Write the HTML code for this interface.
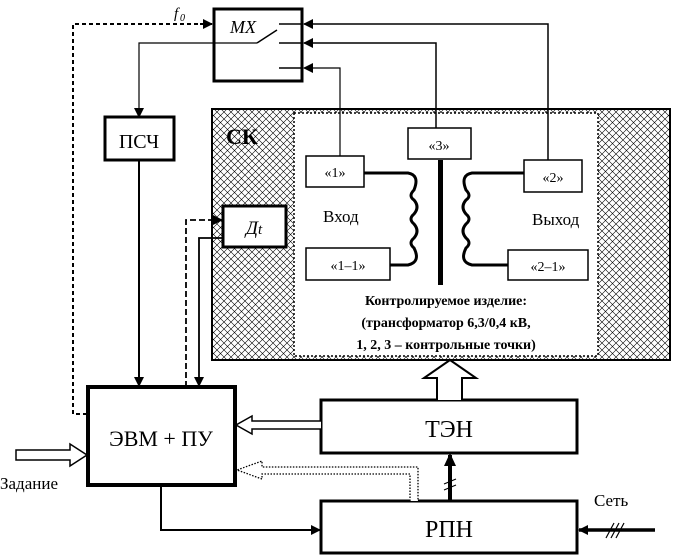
<!DOCTYPE html>
<html><head><meta charset="utf-8"><style>
html,body{margin:0;padding:0;background:#fff;}
svg{display:block;font-family:"Liberation Serif",serif;}
</style></head><body>
<svg width="673" height="556" viewBox="0 0 673 556" xmlns="http://www.w3.org/2000/svg" font-family="Liberation Serif, serif">
<defs>
<pattern id="h" width="7" height="7" patternUnits="userSpaceOnUse">
<path d="M0,0 L7,7 M7,0 L0,7" stroke="#000" stroke-width="0.6"/>
</pattern>
<marker id="a" markerWidth="10" markerHeight="10" refX="9" refY="5" orient="auto" markerUnits="userSpaceOnUse">
<path d="M0,0 L10,5 L0,10 Z" fill="#000"/>
</marker>
</defs>

<!-- СК frame -->
<rect x="212" y="109" width="458" height="251" fill="url(#h)" stroke="#000" stroke-width="2"/>
<rect x="294" y="113" width="304" height="243" fill="#fff" stroke="#000" stroke-width="1.5" stroke-dasharray="2,2"/>
<text x="226" y="144" font-size="22" font-weight="bold">СК</text>

<!-- MX -->
<rect x="214" y="9" width="88" height="72" fill="#fff" stroke="#000" stroke-width="3"/>
<text x="230" y="33" font-size="18" font-style="italic">MX</text>
<path d="M279,24 H302 M279,43 H302 M279,68 H302" stroke="#000" stroke-width="1.5"/>
<path d="M257,43 L277,30" stroke="#000" stroke-width="1.5"/>
<path d="M548,160 V24 H304" fill="none" stroke="#000" stroke-width="1.5" marker-end="url(#a)"/>
<path d="M436,128 V43 H304" fill="none" stroke="#000" stroke-width="1.5" marker-end="url(#a)"/>
<path d="M340,156 V68 H304" fill="none" stroke="#000" stroke-width="1.2" marker-end="url(#a)"/>
<path d="M257,43 H139 V117" fill="none" stroke="#000" stroke-width="1.2" marker-end="url(#a)"/>

<!-- f0 -->
<text x="174" y="18" font-size="15" font-style="italic">f</text><text x="180" y="21" font-size="10" font-style="italic">0</text>
<path d="M212,24 H73 V414 H88" fill="none" stroke="#000" stroke-width="2" stroke-dasharray="4,3"/>
<path d="M200,24 H212" stroke="#000" stroke-width="2" marker-end="url(#a)"/>

<!-- ПСЧ -->
<rect x="105" y="117" width="69" height="43" fill="#fff" stroke="#000" stroke-width="3"/>
<text x="139" y="148" font-size="20" text-anchor="middle">ПСЧ</text>
<path d="M139,160 V386" stroke="#000" stroke-width="2" marker-end="url(#a)"/>

<!-- Дt -->
<rect x="223" y="206" width="63" height="41" fill="#fff" stroke="#000" stroke-width="3"/>
<text x="254" y="234" font-size="19" text-anchor="middle" font-style="italic">Д<tspan font-size="15">t</tspan></text>
<path d="M186,387 V220 H222" fill="none" stroke="#000" stroke-width="1.8" stroke-dasharray="6,3" marker-end="url(#a)"/>
<path d="M223,238 H199 V386" fill="none" stroke="#000" stroke-width="1.8" marker-end="url(#a)"/>

<!-- transformer -->
<rect x="408" y="128" width="63" height="31" fill="#fff" stroke="#000" stroke-width="1.5"/>
<text x="439" y="150" font-size="14" text-anchor="middle">«3»</text>
<rect x="438" y="160" width="5" height="125" fill="#000"/>
<rect x="306" y="156" width="58" height="31" fill="#fff" stroke="#000" stroke-width="1.5"/>
<text x="335" y="177" font-size="14" text-anchor="middle">«1»</text>
<rect x="306" y="248" width="84" height="32" fill="#fff" stroke="#000" stroke-width="1.5"/>
<text x="348" y="270" font-size="14" text-anchor="middle">«1–1»</text>
<rect x="524" y="160" width="58" height="32" fill="#fff" stroke="#000" stroke-width="1.5"/>
<text x="553" y="182" font-size="14" text-anchor="middle">«2»</text>
<rect x="508" y="250" width="80" height="30" fill="#fff" stroke="#000" stroke-width="1.5"/>
<text x="548" y="271" font-size="14" text-anchor="middle">«2–1»</text>
<path d="M364,173 H408 Q420,175 414,190 Q408,196 414,200 Q420,207 414,214 Q408,219 414,224 Q420,231 414,238 Q408,243 414,248 Q421,262 408,265 H390" fill="none" stroke="#000" stroke-width="3"/>
<path d="M524,173 H472 Q460,175 466,190 Q472,196 466,200 Q460,207 466,214 Q472,219 466,224 Q460,231 466,238 Q472,243 466,248 Q459,262 472,265 H508" fill="none" stroke="#000" stroke-width="3"/>
<text x="323" y="222" font-size="17">Вход</text>
<text x="532" y="225" font-size="17">Выход</text>
<g font-size="14" font-weight="bold" text-anchor="middle">
<text x="446" y="305">Контролируемое изделие:</text>
<text x="446" y="327">(трансформатор 6,3/0,4 кВ,</text>
<text x="446" y="349">1, 2, 3 – контрольные точки)</text>
</g>

<!-- ЭВМ -->
<rect x="88" y="387" width="147" height="98" fill="#fff" stroke="#000" stroke-width="4"/>
<text x="161" y="446" font-size="22" text-anchor="middle">ЭВМ + ПУ</text>

<!-- ТЭН -->
<rect x="321" y="400" width="256" height="53" fill="#fff" stroke="#000" stroke-width="3"/>
<text x="449" y="437" font-size="24" text-anchor="middle">ТЭН</text>
<!-- РПН -->
<rect x="321" y="501" width="256" height="52" fill="#fff" stroke="#000" stroke-width="3"/>
<text x="449" y="537" font-size="24" text-anchor="middle">РПН</text>

<!-- hollow up arrow ТЭН -> СК -->
<path d="M437,400 V378 H424 L450,360 L476,378 H462 V400" fill="#fff" stroke="#000" stroke-width="2"/>
<!-- hollow arrow ТЭН -> ЭВМ -->
<path d="M321,421 H252 V416 L236,425 L252,434 V429 H321" fill="#fff" stroke="#000" stroke-width="1.5"/>
<!-- dotted hollow arrow РПН -> ЭВМ -->
<path d="M410,501 V474 H262 V479 L237,470 L262,461 V467 H418 V501" fill="#fff" stroke="#000" stroke-width="1.3" stroke-dasharray="1.5,1.5"/>
<!-- РПН -> ТЭН -->
<path d="M450,501 V455" stroke="#000" stroke-width="4"/>
<path d="M444,466 L450,453 L456,466 Z" fill="#000"/>
<path d="M444,484 L456,479 M444,490 L456,485" stroke="#000" stroke-width="1.2"/>
<!-- ЭВМ -> РПН -->
<path d="M161,485 V530 H320" fill="none" stroke="#000" stroke-width="2" marker-end="url(#a)"/>
<!-- Сеть -->
<path d="M655,530 H579" stroke="#000" stroke-width="3.5" marker-end="url(#a)"/>
<path d="M606,538 L614,523 M611,538 L619,523 M616,538 L624,523" stroke="#000" stroke-width="1.2"/>
<text x="594" y="506" font-size="17">Сеть</text>
<!-- Задание -->
<path d="M16,450 H70 V444 L87,455 L70,466 V460 H16 Z" fill="#fff" stroke="#000" stroke-width="1.5"/>
<text x="0" y="489" font-size="17">Задание</text>
</svg>
</body></html>
